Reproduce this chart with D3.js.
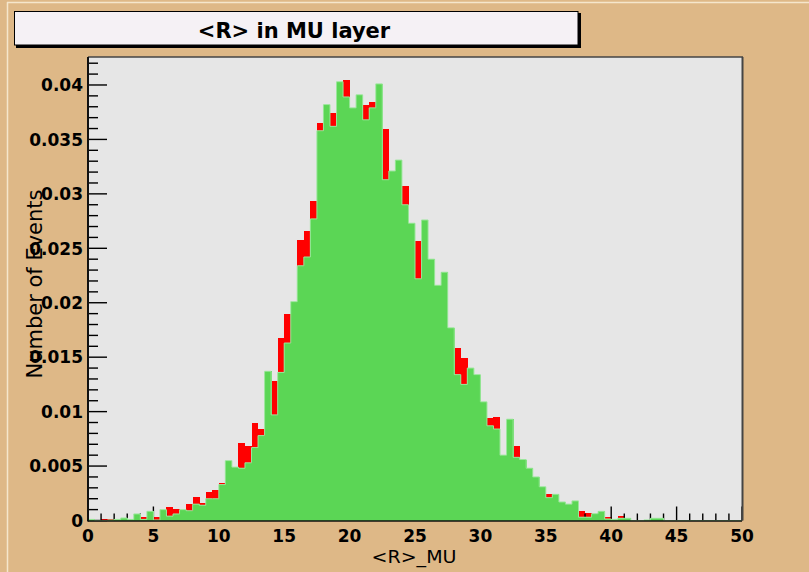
<!DOCTYPE html>
<html>
<head>
<meta charset="utf-8">
<script src="https://cdn.jsdelivr.net/npm/d3@7/dist/d3.min.js"></script>
<style>
  html, body { margin: 0; padding: 0; background: #deb887; }
  svg { display: block; }
</style>
</head>
<body>
<svg id="chart" width="809" height="572"></svg>
<script>
// ---------------- data ----------------
const titleText = "<R> in MU layer";
const xTitle = "<R>_MU";
const yTitle = "Number of Events";

// lower edges of the 100 bins (width 0.5) from 0 to 50
const binLow = d3.range(0, 50, 0.5);
const binWidth = 0.5;

// red histogram (drawn first, behind)
const redValues = [
  0.00005, 0, 0.0001, 0.0001, 0.00005, 0.0002, 0.0001, 0.0005, 0.00035, 0.0007,
  0.00035, 0.0009, 0.0012, 0.00105, 0.0009, 0.0015, 0.0022, 0.0016, 0.0026, 0.0028,
  0.0034, 0.0052, 0.0047, 0.0071, 0.0068, 0.0090, 0.0084, 0.0125, 0.0128, 0.0168,
  0.0190, 0.0195, 0.0258, 0.0266, 0.0293, 0.0365, 0.0375, 0.0374, 0.0395, 0.0405,
  0.0370, 0.0380, 0.0382, 0.0384, 0.0390, 0.0360, 0.0310, 0.0320, 0.0307, 0.0260,
  0.0257, 0.0260, 0.0230, 0.0210, 0.0220, 0.0170, 0.0158, 0.0149, 0.0130, 0.0130,
  0.0105, 0.0094, 0.0095, 0.0058, 0.0090, 0.0068, 0.0053, 0.0046, 0.0038, 0.0030,
  0.0024, 0.0022, 0.0016, 0.0014, 0.0017, 0.00084, 0.0007, 0.0006, 0.0008, 0.00035,
  0.0001, 0.0004, 0.0001, 0, 0, 0.00005, 0, 0, 0, 0,
  0, 0, 0, 0, 0, 0, 0, 0, 0, 0
];

// green histogram (drawn on top)
const greenValues = [
  0.0001, 0, 0, 0.00005, 0.0001, 0.00023, 0.0001, 0.0006, 0.0001, 0.00084,
  0.00005, 0.0010, 0.0004, 0.0006, 0.0010, 0.0009, 0.0015, 0.0014, 0.0020, 0.0020,
  0.0033, 0.0055, 0.0049, 0.0048, 0.0053, 0.0067, 0.0078, 0.0137, 0.0097, 0.0136,
  0.0163, 0.0201, 0.0234, 0.0242, 0.0277, 0.0358, 0.0382, 0.0362, 0.0403, 0.0389,
  0.0379, 0.0391, 0.0368, 0.0379, 0.0401, 0.0313, 0.0321, 0.0331, 0.0290, 0.0273,
  0.0222, 0.0276, 0.0240, 0.0216, 0.0228, 0.0177, 0.0134, 0.0125, 0.0140, 0.0134,
  0.0109, 0.0087, 0.0084, 0.0060, 0.0093, 0.0058, 0.0056, 0.0048, 0.0040, 0.0031,
  0.0021, 0.0024, 0.0017, 0.0015, 0.0018, 0.0003, 0.0003, 0.00063, 0.00084, 0.00014,
  0.0001, 0.0002, 0.0002, 0, 0, 0.00005, 0.0002, 0.0002, 0, 0,
  0, 0, 0, 0, 0, 0, 0, 0, 0, 0
];

const xTickValues = [0, 5, 10, 15, 20, 25, 30, 35, 40, 45, 50];
const xTickLabels = ["0", "5", "10", "15", "20", "25", "30", "35", "40", "45", "50"];
const yTickValues = [0, 0.005, 0.01, 0.015, 0.02, 0.025, 0.03, 0.035, 0.04];
const yTickLabels = ["0", "0.005", "0.01", "0.015", "0.02", "0.025", "0.03", "0.035", "0.04"];
const xMinorTicks = d3.range(0, 51, 1);
const yMinorTicks = d3.range(0, 43).map(d => d / 1000);

// ---------------- layout ----------------
const W = 809, H = 572;
const plot = { left: 88, right: 742, top: 57, bottom: 520.5 };
const yMax = 0.04257;

const x = d3.scaleLinear().domain([0, 50]).range([plot.left, plot.right]);
const y = d3.scaleLinear().domain([0, yMax]).range([plot.bottom, plot.top]);

const svg = d3.select("#chart");
const FONT = "'DejaVu Sans', Verdana, sans-serif";

// canvas background with bevel
svg.append("rect").attr("x", 0).attr("y", 0).attr("width", W).attr("height", H).attr("fill", "#deb887");
svg.append("line").attr("x1", 7.5).attr("x2", 7.5).attr("y1", 2).attr("y2", H)
  .attr("stroke", "#f5e6cc").attr("stroke-width", 1.5);
svg.append("line").attr("x1", 7).attr("x2", W).attr("y1", 2.5).attr("y2", 2.5)
  .attr("stroke", "#f5e6cc").attr("stroke-width", 1.5);

// title box with shadow
svg.append("rect").attr("x", 16).attr("y", 13).attr("width", 565).attr("height", 35).attr("fill", "#000");
svg.append("rect").attr("x", 14.5).attr("y", 11.5).attr("width", 563.5).attr("height", 33.5)
  .attr("fill", "#f5f1f5").attr("stroke", "#000").attr("stroke-width", 1);
svg.append("text").attr("x", 294).attr("y", 37.5).attr("text-anchor", "middle")
  .attr("font-family", FONT).attr("font-weight", "bold").attr("font-size", 21)
  .attr("fill", "#000").text(titleText);

// plot area
svg.append("rect").attr("x", plot.left).attr("y", plot.top)
  .attr("width", plot.right - plot.left).attr("height", plot.bottom - plot.top)
  .attr("fill", "#e6e6e6");

// red histogram
svg.append("g").attr("shape-rendering", "crispEdges").selectAll("rect")
  .data(binLow.map((b, i) => ({ b, v: redValues[i] })).filter(d => d.v > 0))
  .join("rect")
  .attr("x", d => x(d.b))
  .attr("width", d => x(d.b + binWidth) - x(d.b) + 0.4)
  .attr("y", d => y(d.v))
  .attr("height", d => y(0) - y(d.v))
  .attr("fill", "#ff0000");

// ticks (drawn before green histogram)
const tickG = svg.append("g").attr("stroke", "#000").attr("stroke-width", 1.4);
tickG.selectAll("line.xmin").data(xMinorTicks).join("line")
  .attr("x1", d => x(d)).attr("x2", d => x(d))
  .attr("y1", plot.bottom).attr("y2", d => plot.bottom - (d % 5 === 0 ? 14 : 7));
tickG.selectAll("line.ymin").data(yMinorTicks).join("line")
  .attr("x1", plot.left).attr("x2", d => plot.left + (Math.round(d * 1000) % 5 === 0 ? 19 : 10))
  .attr("y1", d => y(d)).attr("y2", d => y(d));

// green histogram
const greenData = binLow.map((b, i) => ({ b, v: greenValues[i] }));
svg.append("g").attr("shape-rendering", "crispEdges").selectAll("rect")
  .data(greenData.filter(d => d.v > 0))
  .join("rect")
  .attr("x", d => x(d.b))
  .attr("width", d => x(d.b + binWidth) - x(d.b) + 0.4)
  .attr("y", d => y(d.v))
  .attr("height", d => y(0) - y(d.v))
  .attr("fill", "#5bd655");

// green outline
const stepLine = d3.line().x(d => x(d.b)).y(d => y(d.v)).curve(d3.curveStepAfter);
svg.append("path")
  .datum(greenData.concat([{ b: 50, v: greenValues[greenValues.length - 1] }]))
  .attr("d", stepLine)
  .attr("fill", "none").attr("stroke", "#9ae69a").attr("stroke-width", 1);

// frame
svg.append("line").attr("x1", plot.left).attr("x2", plot.right + 1).attr("y1", plot.top).attr("y2", plot.top)
  .attr("stroke", "#444").attr("stroke-width", 1.5);
svg.append("line").attr("x1", plot.right + 0.5).attr("x2", plot.right + 0.5).attr("y1", plot.top).attr("y2", plot.bottom)
  .attr("stroke", "#444").attr("stroke-width", 2);
// axes lines
svg.append("line").attr("x1", plot.left).attr("x2", plot.left).attr("y1", plot.top).attr("y2", plot.bottom + 1)
  .attr("stroke", "#111").attr("stroke-width", 2);
svg.append("line").attr("x1", plot.left).attr("x2", plot.right).attr("y1", plot.bottom + 0.5).attr("y2", plot.bottom + 0.5)
  .attr("stroke", "#111").attr("stroke-width", 1.6);

// tick labels
svg.append("g").selectAll("text").data(xTickValues).join("text")
  .attr("x", d => x(d)).attr("y", 541.5).attr("text-anchor", "middle")
  .attr("font-family", FONT).attr("font-weight", "bold").attr("font-size", 17).attr("fill", "#000")
  .text((d, i) => xTickLabels[i]);
svg.append("g").selectAll("text").data(yTickValues).join("text")
  .attr("x", 83).attr("y", d => y(d) + 6.3).attr("text-anchor", "end")
  .attr("font-family", FONT).attr("font-weight", "bold").attr("font-size", 17).attr("fill", "#000")
  .text((d, i) => yTickLabels[i]);

// axis titles
svg.append("text").attr("x", 414).attr("y", 562.5).attr("text-anchor", "middle")
  .attr("font-family", FONT).attr("font-size", 17).attr("fill", "#000")
  .attr("textLength", 85).attr("lengthAdjust", "spacingAndGlyphs")
  .text(xTitle);
svg.append("text").attr("transform", "translate(41.5,284) rotate(-90)")
  .attr("text-anchor", "middle")
  .attr("font-family", FONT).attr("font-size", 21).attr("fill", "#000")
  .text(yTitle);
</script>
</body>
</html>
